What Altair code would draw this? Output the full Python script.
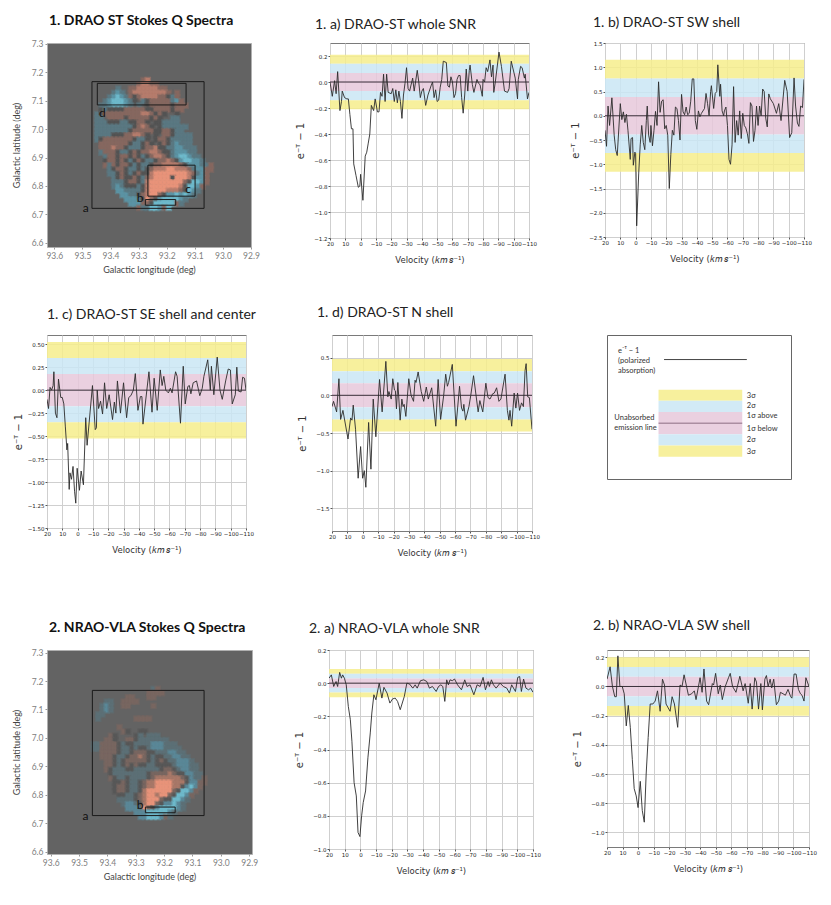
"""Stokes Q maps and polarized absorption spectra, DRAO-ST and NRAO-VLA."""

import altair as alt
import pandas as pd

# spectra: velocity (km/s) and e^-tau - 1
vel_1a = [20, 18.5, 17, 16, 15, 13.5, 12.5, 12, 10.5, 9, 8, 7, 6, 5, 4.5, 3, 1.5, 0.5, 0, -1.5, -3, -4, -5, -6, -7, -8.5, -9.5, -11, -12, -13, -14, -15, -16, -17, -18, -20, -21, -22, -23, -24, -25, -26, -27, -28, -29, -30, -31, -32, -34, -35, -37, -38, -39, -40, -41, -42.5, -44, -46, -47, -48, -49, -50, -51, -52, -53, -54, -56, -57, -58, -59, -60, -61, -62, -63, -64, -65, -66, -67, -68, -69, -70, -71, -71.5, -73, -74, -76, -77, -78, -79.5, -80, -81, -82, -83, -84.5, -85.5, -86.5, -87, -88, -90.4, -92, -94, -96, -97, -98.4, -101, -102.5, -103, -104.5, -105.5, -107, -107.5, -109, -110]
val_1a = [0.0, -0.11, 0.01, -0.09, 0.08, -0.22, -0.15, -0.07, -0.12, -0.13, -0.13, -0.25, -0.36, -0.36, -0.63, -0.72, -0.81, -0.8, -0.71, -0.91, -0.57, -0.54, -0.47, -0.4, -0.18, -0.22, -0.13, -0.23, -0.23, -0.08, -0.11, 0.06, -0.15, 0.06, -0.08, -0.09, -0.05, -0.15, -0.06, -0.16, -0.07, -0.15, -0.28, -0.1, -0.01, 0.11, -0.05, -0.07, 0.03, -0.07, 0.09, 0.0, -0.12, -0.07, -0.05, -0.18, -0.1, -0.03, 0.0, -0.12, -0.06, -0.15, -0.14, -0.04, 0.02, 0.16, 0.15, -0.03, -0.04, 0.04, 0.0, -0.12, -0.09, 0.02, 0.05, 0.05, -0.12, -0.24, -0.1, 0.1, -0.07, 0.09, 0.13, -0.02, -0.08, 0.02, -0.01, -0.02, -0.11, 0.02, 0.0, 0.11, 0.08, 0.17, 0.04, 0.13, -0.08, 0.0, 0.23, 0.12, -0.07, -0.08, -0.05, 0.16, 0.03, -0.13, 0.02, 0.12, 0.11, 0.03, 0.06, -0.13, -0.08]

vel_1b = [20, 19, 18, 17, 15.5, 14, 13, 12, 10, 9, 8, 7, 6, 5, 3.5, 3, 2, 1.5, 0.5, 0, -0.7, -2, -3, -4, -5, -6, -7, -7.6, -8.5, -9.5, -10, -11, -12, -13, -14, -15, -16, -17, -18, -19, -20, -21, -22, -23, -24, -25, -26, -27, -28, -29, -30, -31, -32, -33, -34, -35, -36, -37, -38, -39, -40, -41, -42, -43, -45, -46, -47, -48, -49, -49.5, -51, -52, -53, -53.7, -55, -55.5, -56.5, -57.5, -58, -59, -60, -61, -62, -63, -64, -65, -66, -67, -68, -69, -70, -71, -72, -73, -74, -75, -76, -77, -78, -79, -80, -81, -82, -83, -84, -85, -86, -87, -88, -90, -92, -93.5, -95, -97.4, -99, -100.6, -102, -103.5, -104.5, -105.7, -106.7, -107.8, -109, -110]
val_1b = [-0.3, -0.63, 0.2, -0.2, 0.37, -0.4, -0.7, -0.82, 0.25, -0.08, 0.08, -0.14, 0.03, -0.3, -0.9, -0.47, -0.45, -1.02, -0.75, -0.78, -2.27, -1.2, -0.6, -0.2, -0.55, -0.7, -0.1, 0.2, -0.4, -0.55, -0.2, -0.62, -0.3, 0.09, -0.2, 0.7, 0.07, 0.3, 0.33, -0.27, -0.2, -0.4, -1.5, -0.8, -0.3, -0.4, 0.18, 0.15, -0.1, -0.5, 0.44, 0.08, 0.02, 0.18, 0.02, 0.05, 0.3, 0.76, 0.76, -0.1, -0.28, 0.1, -0.02, 0.05, 0.15, 0.46, 0.25, 0.0, 0.5, 0.62, 0.15, 0.46, 0.5, 1.05, 0.4, 0.65, 0.1, 0.0, 0.1, 0.18, -0.2, -0.9, -1.0, -0.6, 0.6, -0.55, -0.1, -0.4, 0.1, -0.47, 0.05, -0.2, -0.25, -0.37, -0.57, 0.27, 0.2, -0.53, -0.3, 0.2, -0.2, 0.2, 0.0, 0.55, 0.5, -0.05, -0.23, 0.45, 0.35, 0.25, 0.05, 0.25, -0.1, 0.73, 0.5, -0.45, -0.35, 0.78, 0.2, -0.15, -0.22, 0.2, 0.17, 0.75]

vel_1c = [20, 19, 18, 17, 16, 15.5, 14.5, 13.5, 12.5, 11, 10, 9, 8, 7, 6.5, 5.5, 5, 4, 3, 2, 1.2, 0.3, -1.2, -2.3, -3.8, -5.3, -6.2, -9.7, -11.5, -12.3, -12.8, -13.7, -15, -16.3, -17.6, -19, -20.6, -22.8, -24, -25, -26, -28, -30, -32, -33.4, -34.8, -36.4, -37.7, -39.4, -41, -42, -42.7, -46.6, -48.6, -50, -52, -54, -55.2, -56.3, -57.6, -59.3, -60.6, -61.7, -64, -65, -67.2, -69, -70.3, -72, -73, -74, -75.5, -77.7, -79.8, -81.4, -82.5, -85, -86.7, -87.4, -89, -91.2, -93, -94.5, -96.7, -98.4, -99.8, -101, -103, -104, -105, -106.8, -107.8, -109, -110]
val_1c = [-0.1, -0.2, 0.03, 0.0, 0.05, 0.2, -0.25, -0.3, 0.12, -0.08, -0.08, -0.15, -0.4, -0.65, -0.58, -1.08, -0.9, -0.97, -0.83, -1.1, -1.23, -0.85, -1.09, -0.88, -1.03, -0.3, -0.6, 0.05, -0.43, -0.41, 0.0, -0.2, -0.12, -0.26, 0.08, -0.2, -0.05, -0.32, -0.13, -0.25, 0.1, -0.25, 0.08, -0.3, -0.08, -0.06, 0.0, 0.18, -0.22, -0.07, -0.07, -0.37, 0.2, -0.24, 0.13, -0.22, 0.22, 0.05, 0.15, 0.0, -0.03, 0.02, -0.03, 0.2, 0.15, -0.36, 0.26, -0.15, 0.04, 0.05, -0.04, 0.08, 0.1, -0.06, 0.02, 0.15, 0.33, 0.0, 0.26, -0.05, 0.36, 0.0, -0.1, 0.1, 0.23, 0.22, -0.15, -0.05, 0.25, -0.01, -0.02, 0.14, 0.13, 0.0]

vel_1d = [20, 19, 17, 15.5, 14.4, 12.9, 9.6, 7.9, 7, 6.2, 4.7, 3, 1.4, 0.1, -1, -2, -3.8, -5.3, -6.8, -8.5, -10.9, -12.6, -15, -16.3, -17, -18.5, -19.5, -20.6, -21.2, -21.9, -22.8, -24.3, -25.4, -26.2, -26.9, -28, -29.9, -31.4, -33, -34, -34.6, -36, -38, -39.6, -41.3, -42.6, -44.8, -47.4, -49, -50.6, -52.6, -53.9, -55, -55.8, -58.2, -60.6, -62.9, -64.2, -65.1, -65.7, -66.8, -69, -70.2, -72, -75, -76.1, -78, -80, -81.4, -82.7, -84.4, -85.5, -87, -88.5, -89.8, -92.5, -94, -95, -95.7, -96.8, -98.4, -99.5, -100.6, -101.9, -103.2, -104.4, -105.5, -106.2, -107.2, -108.3, -110]
val_1d = [-0.15, -0.08, -0.22, 0.22, -0.32, -0.2, -0.58, -0.3, -0.33, -0.13, -0.45, -1.1, -0.68, -1.1, -1.0, -1.22, -0.36, -0.98, -0.05, -0.55, 0.21, -0.22, 0.45, -0.02, 0.05, -0.05, 0.22, 0.07, 0.06, -0.18, 0.17, -0.33, -0.05, -0.15, -0.12, -0.28, 0.22, 0.0, -0.08, 0.2, 0.17, 0.31, 0.05, -0.08, 0.11, -0.05, 0.1, -0.41, 0.21, -0.32, 0.0, 0.28, 0.12, 0.17, 0.41, -0.41, 0.12, -0.17, -0.21, -0.12, -0.33, -0.15, 0.0, 0.26, -0.22, -0.07, -0.22, 0.16, -0.03, -0.05, 0.02, 0.03, 0.1, -0.08, -0.05, 0.28, -0.2, -0.33, -0.2, -0.41, 0.03, -0.17, 0.03, -0.2, -0.1, -0.15, 0.33, 0.42, -0.02, -0.03, -0.45]

vel_2a = [20, 18.5, 17, 15.5, 14.5, 13.2, 12.1, 11.3, 10.2, 9, 7.7, 6.4, 5.4, 4, 2.6, 1.5, 0.3, -0.8, -1.8, -3.3, -4.8, -6.3, -7.3, -8.6, -9.9, -12, -13.7, -15, -17, -18.8, -20.5, -22.2, -23.7, -25.4, -28, -29.6, -31.3, -33.4, -34.9, -36.2, -38.3, -40.4, -42.3, -44, -45.9, -48.3, -49.8, -51.3, -52.5, -53.8, -55, -56.1, -57.1, -58.6, -60, -61.9, -64.4, -66.5, -68, -69.9, -72.3, -74.4, -76.3, -78.2, -79.7, -81.4, -82.2, -83.5, -84.8, -86.5, -89, -91.1, -93.3, -95, -96.4, -98.8, -100.3, -101.5, -102.6, -104, -105.5, -107.2, -108.5, -110]
val_2a = [0.03, 0.05, -0.02, 0.01, -0.02, 0.065, 0.03, 0.05, 0.03, -0.01, -0.14, -0.22, -0.35, -0.6, -0.68, -0.9, -0.925, -0.8, -0.72, -0.65, -0.45, -0.3, -0.18, -0.07, -0.1, 0.0, -0.09, -0.025, -0.06, -0.12, -0.095, -0.09, -0.11, -0.16, -0.08, 0.0, -0.005, -0.03, -0.01, -0.03, 0.015, 0.02, 0.01, -0.03, -0.02, -0.05, -0.02, -0.01, -0.02, -0.11, 0.02, -0.01, 0.02, 0.015, 0.025, -0.01, -0.04, 0.02, -0.02, -0.01, -0.07, -0.01, -0.02, 0.035, -0.04, 0.01, -0.02, 0.02, -0.01, -0.03, 0.0, -0.02, -0.03, -0.06, -0.01, -0.05, 0.035, 0.04, -0.05, 0.025, -0.03, -0.04, -0.03, -0.055]

vel_2b = [20, 18, 16.5, 15, 14, 13, 11.7, 10.2, 8.9, 7.6, 6.3, 5, 3.7, 2.5, 1.2, 0, -1.4, -2.7, -4, -5.2, -6.5, -7.8, -9.5, -11, -12.5, -14.2, -15.7, -17, -18, -20.6, -21.9, -23.4, -25.5, -27, -28.3, -29.6, -32.4, -34.5, -36.2, -37.3, -39.9, -41.2, -42.4, -44.1, -45.4, -47.8, -48.6, -49.9, -51.6, -52.9, -54.2, -56.1, -58.2, -59.3, -60.8, -63, -65.5, -67.6, -68.9, -70.9, -72.2, -73.4, -75.1, -76.2, -77.5, -79, -80, -81.6, -82.6, -83.7, -85, -86, -87.3, -89, -90.5, -91.6, -93.3, -94.8, -96.5, -98.2, -99, -100.4, -101.7, -103.2, -104.5, -105.5, -106.8, -108, -110]
val_2b = [0.05, 0.135, 0.0, -0.07, -0.07, 0.21, 0.0, 0.0, -0.05, -0.27, -0.13, -0.28, -0.5, -0.7, -0.75, -0.83, -0.65, -0.85, -0.93, -0.6, -0.35, -0.12, -0.12, -0.1, -0.03, -0.17, 0.05, 0.01, -0.12, -0.17, -0.07, -0.12, -0.28, 0.01, 0.0, 0.08, -0.06, -0.05, -0.03, -0.09, 0.06, -0.04, 0.12, -0.1, -0.125, 0.02, 0.01, 0.09, -0.05, 0.01, -0.09, 0.0, 0.06, 0.09, 0.0, -0.04, 0.07, -0.03, 0.02, -0.115, 0.02, -0.155, 0.06, 0.03, -0.155, 0.02, -0.16, 0.05, 0.075, 0.0, 0.05, -0.01, 0.05, -0.125, -0.1, -0.04, -0.05, -0.06, -0.02, -0.07, -0.08, 0.085, 0.085, -0.02, -0.05, -0.06, -0.1, 0.06, 0.0]

vel_ticks = [20, 10, 0, -10, -20, -30, -40, -50, -60, -70, -80, -90, -100, -110]

band_colors = ["#F6ED8C", "#CAE6F4", "#E6C8DA", "#E6C8DA", "#CAE6F4", "#F6ED8C"]
key_colors = ["#F7F09D", "#D2EAF6", "#EAD0E0", "#EAD0E0", "#D2EAF6", "#F7F09D"]
sigma_steps = [3, 2, 1, 0, -1, -2, -3]

# stokes Q maps, one character per 0.015 deg cell
map_lon0 = 93.47
map_lat0 = 7.18
map_step = 0.015
colors_1 = {
    "o": "#E8937A",
    "p": "#B57C6C",
    "q": "#86675F",
    "b": "#6DB9CB",
    "c": "#5B93A4",
    "d": "#5A7882",
    "k": "#535353",
}
colors_2 = {
    "o": "#E8937A",
    "p": "#A87868",
    "q": "#786660",
    "b": "#6DB9CB",
    "c": "#5A8797",
    "d": "#5C6F76",
    "k": "#575757",
}

map_1 = [
    "............qp...............",
    "...........qppqq.............",
    "......d..qqpppppqq...........",
    ".....dcd.qppppppppq.q........",
    "....dcbcdqkqppppqqkdq........",
    "...dcbbbcdk.dkqqqqqdcq.......",
    "..ddcbbbcd.d.kqqqqqkqqq......",
    "..kdkkkkqqqqqkkqqqqkqq.......",
    ".dkqqqqqqqqqppqkqk..k........",
    ".dd.qqqqkqqqqqkqk..dd........",
    ".dddkkkddkkqqk.kkdddd........",
    ".dddddddddkqpqk.kdddddd......",
    ".ddddddddkqqqqqkkqqkdd.......",
    ".ddddkkkqqppqk.k.qqkdddd.....",
    ".dkqqqqqqqkddk.kqqkddddd.....",
    "..qqqqqqqkddkqk.kqkdcddd.....",
    "..qqqpqqkdddkqqpkkddccddd....",
    "..dqqqkddkqkqqppqkkdcccdd....",
    "...dqqkqqkqkdkqppqkdcbbcdd...",
    "...kqqkqkdkqkddkqqpqkcbbccd..",
    "...qdqkqqkdkddkqqppppqkcccddq",
    "....dkqqkddkdkqpppoopppqdccqq",
    "....ddkqkdkqkkpoooooooopqdcq.",
    ".....dkqkkqkdqpooookooopkccq.",
    ".....dddkqqkdpooooooooqkbbcq.",
    ".....dcdkkkdkpooooooopkbbcq..",
    "......ccddddkpoooopppqkbcd...",
    ".......ccddkqpooqkccbcbcd....",
    "........cccdkoqkcbbbbcd......",
    ".........cccqqkbbbbbqd.......",
    "...........qddbbcqb..........",
]
map_2 = [
    "...............dq............",
    "..............qqqq...........",
    ".........qq...qq.............",
    "....dd..qqqq.................",
    "...dcd..qq.....q.............",
    "...dcd.......................",
    "..dd.........................",
    "..d........qqqq..............",
    ".............................",
    ".......q.....................",
    "........qk..kk...............",
    ".....qk....kd.ddd............",
    "....qqk..qqkddddddd..........",
    ".ddqqqqkdkkddddcccddd........",
    ".ddqqqqkddkdkkdcccdddd.......",
    "...qqqqkddkqqqkkdddccdd......",
    "...qqqkddkqqpqkdkkddccdd.....",
    "....qqkdkqqqqqkdkqkddcccd....",
    "....qqkdkqkqkkddkkkkdcccdd...",
    "....qkdddkkddddddkqqkdccdd...",
    ".....kddddddddkqqqqpqkkccdd..",
    ".....qkddkddddkqppppppqkcddq.",
    "......kkqkddkqppoooopppkccqq.",
    "......kqqkddkqppooooppkcbcq..",
    "......kqqkddkpooooooqkbbcq...",
    ".......kkddkqpoopooqkbbcq....",
    ".......ddddkqpoooqkkbbcd.....",
    "........dccdkpooqkccbcd......",
    ".........cccdoqkcbbbbcd......",
    "...........cccbbbbbcd........",
    "............ccbbbcqd.........",
]

# selection boxes: name, lon1, lon2, lat1, lat2, label lon, label lat
boxes_1 = [
    ("a", 93.466, 93.067, 7.167, 6.721, 93.488, 6.721),
    ("b", 93.276, 93.168, 6.752, 6.732, 93.295, 6.756),
    ("c", 93.267, 93.099, 6.873, 6.764, 93.124, 6.788),
    ("d", 93.447, 93.131, 7.161, 7.085, 93.429, 7.055),
]
boxes_2 = [
    ("a", 93.453, 93.059, 7.167, 6.727, 93.477, 6.727),
    ("b", 93.266, 93.161, 6.757, 6.737, 93.285, 6.763),
]

lon_ticks = [93.6, 93.5, 93.4, 93.3, 93.2, 93.1, 93.0, 92.9]
lat_ticks = [7.3, 7.2, 7.1, 7.0, 6.9, 6.8, 6.7, 6.6]

title_font = "Lato"
tick_font = "DejaVu Sans"
tau_title = "e⁻ᵀ − 1"
vel_title = "Velocity (𝑘𝑚 𝑠⁻¹)"


def spectrum_axis(title, values, fmt, title_size, title_pad):
    return alt.Axis(
        title=title,
        values=values,
        tickCount=len(values),
        format=fmt,
        labelOverlap=False,
        labelFlush=False,
        labelFont=tick_font,
        labelFontSize=5.5,
        labelColor="#222222",
        labelPadding=1,
        tickSize=2,
        tickColor="#555555",
        gridColor="#cfcfcf",
        domain=False,
        titleFont=tick_font,
        titleFontSize=title_size,
        titleFontWeight="normal",
        titleColor="#333333",
        titlePadding=title_pad,
    )


def map_axis(title, values, title_pad):
    return alt.Axis(
        title=title,
        values=values,
        tickCount=len(values),
        format=".1f",
        grid=False,
        domain=False,
        labelOverlap=False,
        labelFlush=False,
        labelFont="Lato",
        labelFontSize=8.5,
        labelColor="#808080",
        labelPadding=2,
        tickSize=2,
        tickColor="#999999",
        titleFont="Lato",
        titleFontSize=9,
        titleFontWeight="normal",
        titleColor="#444444",
        titlePadding=title_pad,
    )


def spectrum(title, vel, val, sigma, y_domain, y_ticks, y_format, width, height, dx, offset, y_pad=8):
    """One spectrum panel with its sigma bands."""
    bands = pd.DataFrame(
        {
            "x": [vel_ticks[0]] * 6,
            "x2": [vel_ticks[-1]] * 6,
            "y": [s * sigma for s in sigma_steps[:-1]],
            "y2": [s * sigma for s in sigma_steps[1:]],
            "fill": band_colors,
        }
    )
    x_scale = alt.Scale(domain=[vel_ticks[0], vel_ticks[-1]], nice=False)
    y_scale = alt.Scale(domain=y_domain, nice=False)

    base = alt.Chart(bands).mark_rect(opacity=0.85).encode(
        x=alt.X("x:Q", scale=x_scale, axis=spectrum_axis(vel_title, vel_ticks, ".0f", 8.5, 9)),
        x2="x2:Q",
        y=alt.Y("y:Q", scale=y_scale, axis=spectrum_axis(tau_title, y_ticks, y_format, 10, y_pad)),
        y2="y2:Q",
        color=alt.Color("fill:N", scale=None),
    )
    zero = (
        alt.Chart(pd.DataFrame({"y": [0]}))
        .mark_rule(color="#3a2f3a", strokeWidth=1)
        .encode(y=alt.Y("y:Q", scale=y_scale))
    )
    trace = (
        alt.Chart(pd.DataFrame({"v": vel, "q": val}))
        .mark_line(color="#2b2b2b", strokeWidth=0.9, clip=True)
        .encode(
            x=alt.X("v:Q", scale=x_scale),
            y=alt.Y("q:Q", scale=y_scale),
            order=alt.Order("o:Q"),
        )
        .transform_window(o="row_number()")
    )
    return alt.layer(base, zero, trace).properties(
        width=width,
        height=height,
        view=alt.ViewBackground(stroke="#7a7a7a", strokeWidth=1),
        title=alt.TitleParams(
            title,
            font=title_font,
            fontSize=14,
            fontWeight="normal",
            color="#222222",
            anchor="start",
            frame="group",
            dx=dx,
            offset=offset,
        ),
    )


def stokes_map(title, rows, colors, boxes, lon_domain, lat_domain, width, height, offset):
    """Stokes Q map as a grid of cells with the selection boxes on top."""
    cells = []
    for r, row in enumerate(rows):
        for c, ch in enumerate(row):
            if ch == ".":
                continue
            cells.append(
                {
                    "lon": map_lon0 - c * map_step,
                    "lon2": map_lon0 - (c + 1) * map_step,
                    "lat": map_lat0 - r * map_step,
                    "lat2": map_lat0 - (r + 1) * map_step,
                    "fill": colors[ch],
                }
            )
    x_scale = alt.Scale(domain=lon_domain, nice=False)
    y_scale = alt.Scale(domain=lat_domain, nice=False)

    grid = alt.Chart(pd.DataFrame(cells)).mark_rect(strokeWidth=2.5, strokeOpacity=0.5).encode(
        x=alt.X("lon:Q", scale=x_scale, axis=map_axis("Galactic longitude (deg)", lon_ticks, 6)),
        x2="lon2:Q",
        y=alt.Y("lat:Q", scale=y_scale, axis=map_axis("Galactic latitude (deg)", lat_ticks, 10)),
        y2="lat2:Q",
        color=alt.Color("fill:N", scale=None),
        stroke=alt.Stroke("fill:N", scale=None),
    )
    box_df = pd.DataFrame(
        boxes, columns=["name", "lon", "lon2", "lat", "lat2", "tlon", "tlat"]
    )
    frames = (
        alt.Chart(box_df)
        .mark_rect(fill=None, stroke="#1a1a1a", strokeWidth=1)
        .encode(
            x=alt.X("lon:Q", scale=x_scale),
            x2="lon2:Q",
            y=alt.Y("lat:Q", scale=y_scale),
            y2="lat2:Q",
        )
    )
    labels = (
        alt.Chart(box_df)
        .mark_text(font=title_font, fontSize=12, color="#111111")
        .encode(
            x=alt.X("tlon:Q", scale=x_scale),
            y=alt.Y("tlat:Q", scale=y_scale),
            text="name:N",
        )
    )
    return alt.layer(grid, frames, labels).properties(
        width=width,
        height=height,
        view=alt.ViewBackground(fill="#636363", stroke="#b0b0b0", strokeWidth=1),
        title=alt.TitleParams(
            title,
            font=title_font,
            fontSize=14,
            fontWeight="bold",
            color="#111111",
            anchor="start",
            frame="group",
            dx=2,
            offset=offset,
        ),
    )


# legend panel, bands in sigma units as in the spectra
key_texts = [
    ("e⁻ᵀ − 1", 0.06, 6.5),
    ("(polarized", 0.06, 5.6),
    ("absorption)", 0.06, 4.7),
    ("Unabsorbed", 0.04, 0.42),
    ("emission line", 0.04, -0.45),
    ("3σ", 0.76, 2.45),
    ("2σ", 0.76, 1.5),
    ("1σ above", 0.76, 0.6),
    ("1σ below", 0.76, -0.54),
    ("2σ", 0.76, -1.5),
    ("3σ", 0.76, -2.57),
]
key_band_left = 0.28
key_band_right = 0.735
key_line = (0.31, 0.76, 5.7)


def legend_panel(width, height):
    x_scale = alt.Scale(domain=[0, 1], nice=False)
    y_scale = alt.Scale(domain=[-5.0, 7.9], nice=False)
    bands = pd.DataFrame(
        {
            "x": [key_band_left] * 6,
            "x2": [key_band_right] * 6,
            "y": sigma_steps[:-1],
            "y2": sigma_steps[1:],
            "fill": key_colors,
        }
    )
    rect = alt.Chart(bands).mark_rect().encode(
        x=alt.X("x:Q", scale=x_scale, axis=None),
        x2="x2:Q",
        y=alt.Y("y:Q", scale=y_scale, axis=None),
        y2="y2:Q",
        color=alt.Color("fill:N", scale=None),
    )
    emission = (
        alt.Chart(pd.DataFrame({"x": [key_band_left], "x2": [key_band_right], "y": [0]}))
        .mark_rule(color="#8a6a80", strokeWidth=1)
        .encode(x=alt.X("x:Q", scale=x_scale), x2="x2:Q", y=alt.Y("y:Q", scale=y_scale))
    )
    absorb = (
        alt.Chart(pd.DataFrame({"x": [key_line[0]], "x2": [key_line[1]], "y": [key_line[2]]}))
        .mark_rule(color="#444444", strokeWidth=1)
        .encode(x=alt.X("x:Q", scale=x_scale), x2="x2:Q", y=alt.Y("y:Q", scale=y_scale))
    )
    text = (
        alt.Chart(pd.DataFrame(key_texts, columns=["t", "x", "y"]))
        .mark_text(font=title_font, fontSize=7.5, align="left", color="#333333")
        .encode(
            x=alt.X("x:Q", scale=x_scale),
            y=alt.Y("y:Q", scale=y_scale),
            text="t:N",
        )
    )
    return alt.layer(rect, emission, absorb, text).properties(
        width=width,
        height=height,
        view=alt.ViewBackground(stroke="#666666", strokeWidth=1),
        title=alt.TitleParams(" ", fontSize=14, anchor="start", frame="group", offset=16),
    )


map_a = stokes_map(
    "1. DRAO ST Stokes Q Spectra", map_1, colors_1, boxes_1, [93.626, 92.9], [6.585, 7.303], 204, 204, 12
)
map_b = stokes_map(
    "2. NRAO-VLA Stokes Q Spectra", map_2, colors_2, boxes_2, [93.613, 92.89], [6.592, 7.309], 205, 204, 14
)

panel_1a = spectrum(
    "1. a) DRAO-ST whole SNR", vel_1a, val_1a, 0.07, [-1.2, 0.3],
    [0.2, 0.0, -0.2, -0.4, -0.6, -0.8, -1.0, -1.2], ".1f", 199, 195, -15, 11,
)
panel_1b = spectrum(
    "1. b) DRAO-ST SW shell", vel_1b, val_1b, 0.385, [-2.5, 1.5],
    [1.5, 1.0, 0.5, 0.0, -0.5, -1.0, -1.5, -2.0, -2.5], ".1f", 199, 194, -12, 11,
)
panel_1c = spectrum(
    "1. c) DRAO-ST SE shell and center", vel_1c, val_1c, 0.175, [-1.5, 0.6],
    [0.5, 0.25, 0.0, -0.25, -0.5, -0.75, -1.0, -1.25, -1.5], ".2f", 199, 193, 0, 13, y_pad=4,
)
panel_1d = spectrum(
    "1. d) DRAO-ST N shell", vel_1d, val_1d, 0.16, [-1.8, 0.8],
    [0.5, 0.0, -0.5, -1.0, -1.5], ".1f", 200, 196, -15, 15,
)
panel_2a = spectrum(
    "2. a) NRAO-VLA whole SNR", vel_2a, val_2a, 0.0285, [-1.0, 0.2],
    [0.2, 0.0, -0.2, -0.4, -0.6, -0.8, -1.0], ".1f", 204, 199, -20, 12,
)
panel_2b = spectrum(
    "2. b) NRAO-VLA SW shell", vel_2b, val_2b, 0.067, [-1.1, 0.25],
    [0.2, 0.0, -0.2, -0.4, -0.6, -0.8, -1.0], ".1f", 202, 197, -14, 17,
)

row_1 = alt.hconcat(alt.hconcat(map_a, panel_1a, spacing=35), panel_1b, spacing=32)
row_2 = alt.hconcat(
    alt.hconcat(panel_1c, panel_1d, spacing=40), legend_panel(184, 144), spacing=65
)
row_3 = alt.hconcat(alt.hconcat(map_b, panel_2a, spacing=35), panel_2b, spacing=30)

chart = alt.vconcat(alt.vconcat(row_1, row_2, spacing=29), row_3, spacing=60).properties(
    padding={"left": 3, "top": 5, "right": 0, "bottom": 0}
).configure_view(strokeWidth=0)

chart.save("out.html", embed_options={"renderer": "svg", "actions": False})
